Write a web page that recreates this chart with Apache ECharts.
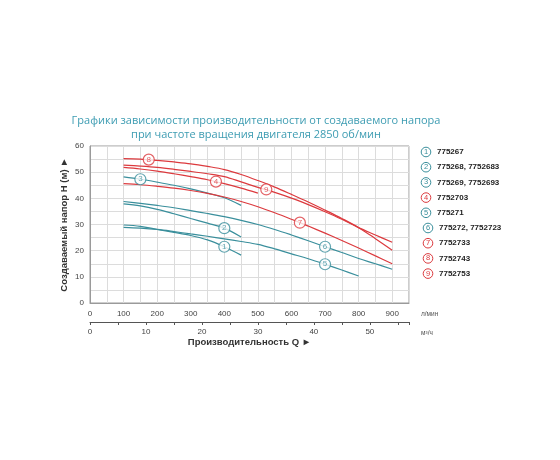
<!DOCTYPE html>
<html>
<head>
<meta charset="utf-8">
<script src="https://cdn.jsdelivr.net/npm/echarts@6/dist/echarts.min.js"></script>
<style>html,body{margin:0;padding:0;background:#fff;}#c{width:560px;height:460px;}</style>
</head>
<body>
<div id="c"></div>
<script>
// Flow rate (l/min), shared by all curves
const flowLpm = [100,150,200,250,300,350,400,450,500,550,600,650,700,750,800,850,900];
// Head (m) per pump curve
const head1 = [29.8,29.3,28.1,27.0,25.8,24.1,21.5,18.3];
const head2 = [37.9,37.1,35.8,34.1,32.3,30.5,28.6,25.2];
const head3 = [48.2,47.3,46.2,45.0,43.6,42.0,40.2,37.3];
const head4 = [51.8,51.2,50.4,49.4,48.3,47.1,45.6,43.9,42.0];
const head5 = [28.9,28.6,28.1,27.3,26.4,25.5,24.5,23.5,22.4,20.7,18.8,16.9,14.8,12.6,10.3];
const head6 = [38.8,38.1,37.3,36.4,35.3,34.2,33.0,31.6,30.0,28.1,26.0,23.8,21.5,19.3,17.0,15.0,12.9];
const head7 = [45.6,45.2,44.6,43.9,43.0,41.9,40.5,38.8,36.8,34.5,32.0,29.4,26.7,23.9,21.0,18.0,15.0];
const head8 = [55.2,55.0,54.5,53.9,53.2,52.2,51.0,49.1,46.8,44.3,41.5,38.6,35.5,32.3,28.8,24.6,20.2];
const head9 = [52.7,52.3,51.8,51.1,50.3,49.4,48.3,46.3,44.2,42.3,40.1,37.6,34.9,32.0,28.8,26.0,23.2];
// Circled-number marker positions on each curve (l/min, m)
const markerFlow = [400,400,150,375,700,700,625,175,525];
const markerHead = [21.5,28.6,47.3,46.4,14.8,21.5,30.7,54.8,43.4];
// Legend labels (article numbers) and colour group (t = teal, r = red)
const curveNames = ['775267','775268, 7752683','775269, 7752693','7752703','775271','775272, 7752723','7752733','7752743','7752753'];
const curveKind = ['t','t','t','r','t','t','r','r','r'];
// Axis ranges
const lpmMax = 950, m3hMax = 57, headMax = 60;
const titleLines = ['Графики зависимости производительности от создаваемого напора','при частоте вращения двигателя 2850 об/мин'];

const TEAL = '#3a8f9c', RED = '#dc3a3e';
const heads = [head1,head2,head3,head4,head5,head6,head7,head8,head9];
const colorOf = k => k === 'r' ? RED : TEAL;

const series = heads.map((h,i) => ({
  type:'line', name: curveNames[i], smooth:0.35, symbol:'none',
  xAxisIndex:0, yAxisIndex:0,
  lineStyle:{color:colorOf(curveKind[i]), width:1.2},
  data: h.map((v,j)=>[flowLpm[j], v]), z:2
}));
series.push({
  type:'scatter', xAxisIndex:0, yAxisIndex:0, z:5, symbol:'circle', symbolSize:11,
  data: markerFlow.map((q,i)=>({
    value:[q, markerHead[i]],
    itemStyle:{color:'#fff', borderColor:colorOf(curveKind[i]), borderWidth:1.2},
    label:{show:true, position:'inside', formatter:String(i+1), color:colorOf(curveKind[i]), fontSize:8, fontFamily:'Liberation Sans'}
  }))
});

const graphics = [];
curveNames.forEach((n,i)=>{
  const y = 152 + i*15.2;
  const x = i >= 5 ? 428 : 426;
  graphics.push({type:'circle', shape:{cx:x, cy:y, r:4.8}, style:{fill:'#fff', stroke:colorOf(curveKind[i]), lineWidth:1}});
  graphics.push({type:'text', x:x, y:y, style:{text:String(i+1), fill:colorOf(curveKind[i]), font:'7.5px "Liberation Sans"', textAlign:'center', textVerticalAlign:'middle'}});
  graphics.push({type:'text', x:x+11, y:y, style:{text:n, fill:'#222', font:'bold 8px "Liberation Sans"', textAlign:'left', textVerticalAlign:'middle'}});
});

const chart = echarts.init(document.getElementById('c'));
chart.setOption({
  animation:false,
  backgroundColor:'#fff',
  title:{
    text: titleLines.join('\n'), left:251, top:109, textAlign:'center',
    textStyle:{color:'#3d9cb2', fontSize:11, fontWeight:'normal', fontFamily:'Open Sans', lineHeight:14}
  },
  grid:{left:90, right:151, top:146, bottom:157, show:true, borderColor:'#9a9a9a', borderWidth:1},
  xAxis:[
    {type:'value', min:0, max:lpmMax, interval:50, position:'bottom',
     axisLine:{show:true, lineStyle:{color:'#9a9a9a'}}, axisTick:{show:false},
     axisLabel:{formatter:v=> (v%100===0 && v<=900) ? String(v) : '', fontSize:8, color:'#444', margin:7, fontFamily:'Liberation Sans'},
     splitLine:{show:true, lineStyle:{color:'#dcdcdc', width:1}},
     name:'л/мин', nameLocation:'end', nameGap:12,
     nameTextStyle:{fontSize:6.5, color:'#555', verticalAlign:'top', padding:[8,0,0,0]}},
    {type:'value', min:0, max:m3hMax, interval:5, position:'bottom', offset:19,
     axisLine:{show:true, lineStyle:{color:'#555'}}, axisTick:{show:true, length:3, lineStyle:{color:'#555'}},
     axisLabel:{formatter:v=> (v%10===0 && v<=50) ? String(v) : '', fontSize:8, color:'#444', margin:6, fontFamily:'Liberation Sans'},
     splitLine:{show:false},
     name:'Производительность Q ►', nameLocation:'middle', nameGap:15,
     nameTextStyle:{fontSize:9.5, fontWeight:'bold', color:'#333', fontFamily:'Liberation Sans'}},
    {type:'value', min:0, max:m3hMax, position:'bottom', offset:19,
     axisLine:{show:false}, axisTick:{show:false}, axisLabel:{show:false}, splitLine:{show:false},
     name:'м³/ч', nameLocation:'end', nameGap:12,
     nameTextStyle:{fontSize:6.5, color:'#555', verticalAlign:'top', padding:[8,0,0,0]}}
  ],
  yAxis:{type:'value', min:0, max:headMax, interval:5,
    axisLine:{show:true, lineStyle:{color:'#9a9a9a'}}, axisTick:{show:false},
    axisLabel:{formatter:v=> v%10===0 ? String(v) : '', fontSize:8, color:'#444', margin:6, fontFamily:'Liberation Sans'},
    splitLine:{show:true, lineStyle:{color:'#dcdcdc', width:1}},
    name:'Создаваемый напор H (м) ►', nameLocation:'middle', nameGap:21, nameRotate:90, nameMoveOverlap:false,
    nameTextStyle:{fontSize:9.5, fontWeight:'bold', color:'#333', fontFamily:'Liberation Sans'}},
  graphic: graphics,
  series: series
});
</script>
</body>
</html>
